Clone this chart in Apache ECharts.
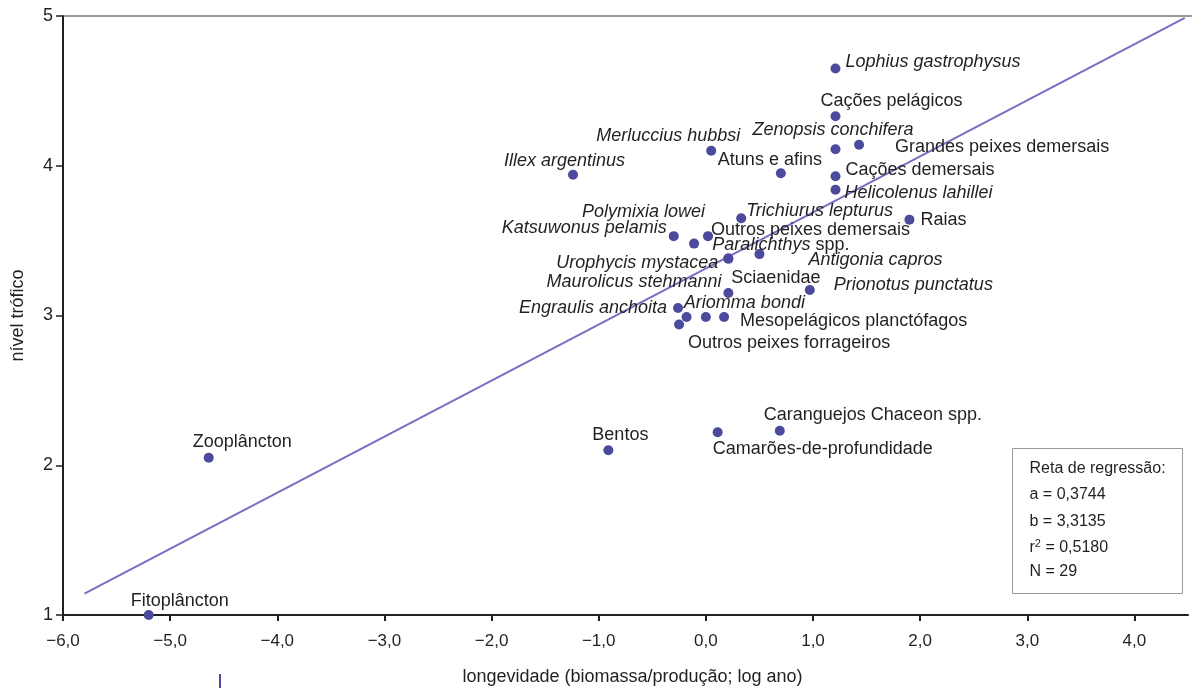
<!DOCTYPE html>
<html>
<head>
<meta charset="utf-8">
<script src="https://cdn.jsdelivr.net/npm/echarts@6/dist/echarts.min.js"></script>
<style>
  html, body { margin: 0; padding: 0; background: #fff; }
  #chart { width: 1192px; height: 688px; }
</style>
</head>
<body>
<div id="chart"></div>
<script>
// dados
const grupos = [
  'Fitoplâncton', 'Zooplâncton', 'Bentos', 'Camarões-de-profundidade', 'Caranguejos Chaceon spp.',
  'Illex argentinus', 'Merluccius hubbsi', 'Atuns e afins', 'Lophius gastrophysus', 'Cações pelágicos',
  'Zenopsis conchifera', 'Grandes peixes demersais', 'Cações demersais', 'Helicolenus lahillei', 'Trichiurus lepturus',
  'Raias', 'Katsuwonus pelamis', 'Polymixia lowei', 'Outros peixes demersais', 'Paralichthys spp.',
  'Urophycis mystacea', 'Antigonia capros', 'Maurolicus stehmanni', 'Sciaenidae', 'Prionotus punctatus',
  'Engraulis anchoita', 'Ariomma bondi', 'Mesopelágicos planctófagos', 'Outros peixes forrageiros'
]
const longevidade = [
  -5.20, -4.64, -0.91, 0.11, 0.69,
  -1.24, 0.05, 0.70, 1.21, 1.21,
  1.21, 1.43, 1.21, 1.21, 0.33,
  1.90, -0.30, -0.11, 0.02, 0.21,
  0.21, 0.50, -0.18, 0.21, 0.97,
  -0.26, 0.00, 0.17, -0.25
]
const nivelTrofico = [
  1.00, 2.05, 2.10, 2.22, 2.23,
  3.94, 4.10, 3.95, 4.65, 4.33,
  4.11, 4.14, 3.93, 3.84, 3.65,
  3.64, 3.53, 3.48, 3.53, 3.38,
  3.38, 3.41, 2.99, 3.15, 3.17,
  3.05, 2.99, 2.99, 2.94
]
// reta de regressão
const coefA = 0.3744
const coefB = 3.3135
const retaX = [-5.8, 4.47]
const xTicks = [-6, -5, -4, -3, -2, -1, 0, 1, 2, 3, 4]

// estilos dos rótulos: [align, dx, dy]
const rotulos = {
  'Fitoplâncton': ['left', -18, -14],
  'Zooplâncton': ['left', -16, -16],
  'Bentos': ['left', -16, -15],
  'Camarões-de-profundidade': ['left', -5, 17],
  'Caranguejos Chaceon spp.': ['left', -16, -16],
  'Illex argentinus': ['left', -69, -14],
  'Merluccius hubbsi': ['right', 29, -15],
  'Atuns e afins': ['left', -63, -13],
  'Lophius gastrophysus': ['left', 10, -6],
  'Cações pelágicos': ['left', -15, -15],
  'Zenopsis conchifera': ['left', -83, -19],
  'Grandes peixes demersais': ['left', 36, 2],
  'Cações demersais': ['left', 10, -6],
  'Helicolenus lahillei': ['left', 9, 3],
  'Trichiurus lepturus': ['left', 5, -7],
  'Raias': ['left', 11, 0],
  'Katsuwonus pelamis': ['right', -7, -8],
  'Polymixia lowei': ['right', 11, -32],
  'Outros peixes demersais': ['left', 3, -6],
  'Paralichthys spp.': ['left', -16, -14],
  'Urophycis mystacea': ['right', -10, 4],
  'Antigonia capros': ['left', 49, 6],
  'Maurolicus stehmanni': ['right', 35, -35],
  'Sciaenidae': ['left', 3, -15],
  'Prionotus punctatus': ['left', 24, -5],
  'Engraulis anchoita': ['right', -11, 0],
  'Ariomma bondi': ['left', -22, -14],
  'Mesopelágicos planctófagos': ['left', 16, 4],
  'Outros peixes forrageiros': ['left', 9, 19]
}
const italicos = [
  'Illex argentinus', 'Merluccius hubbsi', 'Lophius gastrophysus', 'Zenopsis conchifera',
  'Helicolenus lahillei', 'Trichiurus lepturus', 'Katsuwonus pelamis', 'Polymixia lowei',
  'Urophycis mystacea', 'Antigonia capros', 'Maurolicus stehmanni', 'Prionotus punctatus',
  'Engraulis anchoita', 'Ariomma bondi'
]

const FONT = 'Liberation Sans, Arial, Helvetica, sans-serif'
const TEXT = '#231f20'
const PONTO = '#4b4a9c'
const RETA = '#7a6dc2'

const fmtNum = v => (v < 0 ? '\u2212' : '') + Math.abs(v).toFixed(1).replace('.', ',')

const pontos = grupos.map((nome, i) => {
  const r = rotulos[nome]
  const label = {
    align: r[0],
    offset: [r[1], r[2]],
    fontStyle: italicos.includes(nome) ? 'italic' : 'normal'
  }
  if (nome === 'Paralichthys spp.') {
    label.formatter = '{i|Paralichthys} spp.'
  }
  return { name: nome, value: [longevidade[i], nivelTrofico[i]], label }
})

const reta = retaX.map(x => [x, coefA * x + coefB])

const chart = echarts.init(document.getElementById('chart'), null, { renderer: 'canvas' })

const option = {
  animation: false,
  backgroundColor: '#fff',
  textStyle: { fontFamily: FONT },
  grid: { left: 63, right: 4, top: 16, bottom: 73, containLabel: false, outerBoundsMode: 'none' },
  xAxis: {
    type: 'value',
    min: -6,
    max: 4.5,
    interval: 1,
    name: 'longevidade (biomassa/produção; log ano)',
    nameLocation: 'middle',
    nameGap: 53,
    nameTextStyle: { fontSize: 18, color: TEXT, padding: [0, 0, 0, 14] },
    axisLine: { onZero: false, lineStyle: { color: TEXT, width: 2 } },
    axisTick: { show: true, length: 6, lineStyle: { color: TEXT, width: 2 }, customValues: xTicks },
    axisLabel: { fontSize: 17, color: TEXT, margin: 18, formatter: fmtNum, customValues: xTicks },
    splitLine: { show: false }
  },
  yAxis: {
    type: 'value',
    min: 1,
    max: 5,
    interval: 1,
    name: 'nível trófico',
    nameLocation: 'middle',
    nameGap: 36,
    nameTextStyle: { fontSize: 18, color: TEXT },
    axisLine: { show: true, onZero: false, lineStyle: { color: TEXT, width: 2 } },
    axisTick: { show: true, length: 7, lineStyle: { color: TEXT, width: 1.5 } },
    axisLabel: { fontSize: 18, color: TEXT, margin: 10 },
    splitLine: { show: false }
  },
  series: [
    {
      type: 'line',
      data: reta,
      symbol: 'none',
      lineStyle: { color: RETA, width: 2 },
      z: 2,
      silent: true
    },
    {
      type: 'scatter',
      data: pontos,
      symbolSize: 10,
      itemStyle: { color: PONTO, opacity: 1 },
      z: 3,
      label: {
        show: true,
        position: 'inside',
        verticalAlign: 'middle',
        formatter: '{b}',
        color: TEXT,
        fontSize: 18,
        fontFamily: FONT,
        rich: { i: { fontStyle: 'italic', fontSize: 18, color: TEXT, fontFamily: FONT } }
      }
    }
  ],
  graphic: [
    // linha cinza superior
    { type: 'line', shape: { x1: 64, y1: 16, x2: 1192, y2: 16 }, style: { stroke: '#999', lineWidth: 2 }, z: 1 },
    // caixa da regressão
    {
      type: 'group', left: 1012, top: 448,
      children: [
        { type: 'rect', shape: { x: 0, y: 0, width: 170, height: 145 }, style: { fill: '#fff', stroke: '#999', lineWidth: 1 } },
        { type: 'text', x: 17, y: 20, style: { text: 'Reta de regressão:', font: '16px ' + FONT, fill: TEXT, verticalAlign: 'middle' } },
        { type: 'text', x: 17, y: 46, style: { text: 'a = ' + coefA.toFixed(4).replace('.', ','), font: '16px ' + FONT, fill: TEXT, verticalAlign: 'middle' } },
        { type: 'text', x: 17, y: 73, style: { text: 'b = ' + coefB.toFixed(4).replace('.', ','), font: '16px ' + FONT, fill: TEXT, verticalAlign: 'middle' } },
        {
          type: 'text', x: 17, y: 99,
          style: {
            text: '{n|r}{s|2}{n| = 0,5180}', verticalAlign: 'middle',
            rich: {
              n: { font: '16px ' + FONT, fill: TEXT, color: TEXT },
              s: { font: '11px ' + FONT, fill: TEXT, color: TEXT, verticalAlign: 'top', padding: [0, 0, 8, 0] }
            }
          }
        },
        { type: 'text', x: 17, y: 123, style: { text: 'N = 29', font: '16px ' + FONT, fill: TEXT, verticalAlign: 'middle' } }
      ]
    },
    // traço azul solto embaixo
    { type: 'line', shape: { x1: 220, y1: 674, x2: 220, y2: 688 }, style: { stroke: PONTO, lineWidth: 2 } }
  ]
}

chart.setOption(option)
</script>
</body>
</html>
